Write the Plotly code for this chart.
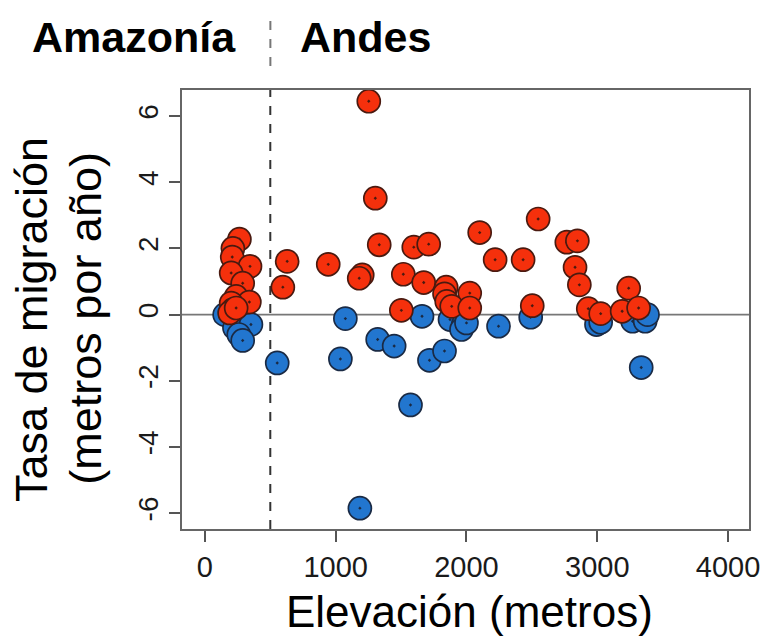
import plotly.graph_objects as go

# Elevation (m) and migration rate (m/yr) – upslope (red) and downslope (blue)
red_elev = [264, 214, 209, 345, 201, 289, 239, 340, 201, 214, 189, 239,
            629, 596, 943,
            1253, 1303, 1333, 1597, 1711, 2101, 2219, 2433, 2548,
            1203, 1180, 1517, 1673, 1845, 1832, 1849, 2025, 1887, 2025, 1502,
            2767, 2848, 2830, 2863, 2503, 2931, 3026, 3190, 3240, 3316]
red_rate = [2.28, 2.0, 1.74, 1.46, 1.26, 0.95, 0.55, 0.38, 0.35, 0.15, 0.05, 0.2,
            1.61, 0.83, 1.52,
            6.45, 3.52, 2.11, 2.04, 2.13, 2.48, 1.66, 1.66, 2.89,
            1.2, 1.1, 1.22, 0.97, 0.83, 0.63, 0.4, 0.65, 0.25, 0.2, 0.13,
            2.19, 2.23, 1.43, 0.9, 0.27, 0.18, 0.03, 0.1, 0.8, 0.2]

blue_elev = [151, 226, 352, 259, 289, 553,
             1074, 1321, 1447, 1036, 1660, 1874, 1975, 1962, 2000, 2245, 2491,
             1717, 1832, 1572, 1185,
             2994, 3026, 3270, 3366, 3384, 3336]
blue_rate = [0.0, -0.4, -0.3, -0.6, -0.78, -1.46,
             -0.12, -0.75, -0.95, -1.34, -0.05, -0.15, -0.3, -0.45, -0.25, -0.35, -0.08,
             -1.38, -1.1, -2.73, -5.85,
             -0.3, -0.23, -0.2, -0.2, 0.0, -1.6]

x_ticks = [0, 1000, 2000, 3000, 4000]
y_ticks = [-6, -4, -2, 0, 2, 4, 6]
boundary = 500

FONT = "Liberation Sans, Arial, sans-serif"

# plot-area geometry in pixels (for placing texts in paper coords)
L, R, T, B = 182, 753, 90, 529
W, H = R - L, B - T


def px(xp):
    return (xp - L) / W


def py(yp):
    return (B - yp) / H


fig = go.Figure()
fig.add_trace(go.Scatter(
    x=blue_elev, y=blue_rate, mode="markers",
    marker=dict(symbol="circle-dot", size=23, color="#2276cf",
                line=dict(color="#1a2a44", width=1.7)),
    showlegend=False, hoverinfo="x+y"))
fig.add_trace(go.Scatter(
    x=red_elev, y=red_rate, mode="markers",
    marker=dict(symbol="circle-dot", size=23, color="#f5300c",
                line=dict(color="#4a1a10", width=1.7)),
    showlegend=False, hoverinfo="x+y"))

# horizontal zero line and dashed boundary line
fig.add_shape(type="line", xref="paper", yref="y", x0=0, x1=1, y0=0, y1=0,
              line=dict(color="#777777", width=1.8), layer="below")
fig.add_shape(type="line", xref="x", yref="paper", x0=boundary, x1=boundary, y0=0, y1=1,
              line=dict(color="#333333", width=2, dash="dash"), layer="below")

# small dashed separator between region labels
fig.add_shape(type="line", xref="paper", yref="paper",
              x0=px(271), x1=px(271), y0=py(66), y1=py(18),
              line=dict(color="#777777", width=2, dash="dash"))

fig.add_annotation(text="<b>Amazonía</b>", xref="paper", yref="paper",
                   x=px(134), y=py(37),
                   showarrow=False, font=dict(family=FONT, size=43, color="black"),
                   xanchor="center", yanchor="middle")
fig.add_annotation(text="<b>Andes</b>", xref="paper", yref="paper",
                   x=px(367), y=py(37),
                   showarrow=False, font=dict(family=FONT, size=43, color="black"),
                   xanchor="center", yanchor="middle")

# y-axis title (two lines)
fig.add_annotation(text="Tasa de migración", xref="paper", yref="paper",
                   x=px(30), y=py(320), textangle=-90,
                   showarrow=False, font=dict(family=FONT, size=45, color="black"),
                   xanchor="center", yanchor="middle")
fig.add_annotation(text="(metros por año)", xref="paper", yref="paper",
                   x=px(84), y=py(318), textangle=-90,
                   showarrow=False, font=dict(family=FONT, size=45, color="black"),
                   xanchor="center", yanchor="middle")

fig.add_annotation(text="Elevación (metros)", xref="paper", yref="paper",
                   x=px(472), y=py(611),
                   showarrow=False, font=dict(family=FONT, size=44, color="black"),
                   xanchor="center", yanchor="middle")

fig.update_xaxes(range=[-175, 4160], tickvals=x_ticks, ticktext=[str(v) for v in x_ticks],
                 ticks="outside", ticklen=11, tickwidth=1.5, tickcolor="#555555",
                 showgrid=False, zeroline=False,
                 showline=True, linecolor="#666666", linewidth=1.5, mirror=True,
                 tickfont=dict(family=FONT, size=29, color="#1a1a1a"))
fig.update_yaxes(range=[-6.48, 6.79], tickvals=y_ticks, ticktext=[str(v) for v in y_ticks],
                 ticks="outside", ticklen=11, tickwidth=1.5, tickcolor="#555555",
                 tickangle=-90,
                 showgrid=False, zeroline=False,
                 showline=True, linecolor="#666666", linewidth=1.5, mirror=True,
                 tickfont=dict(family=FONT, size=28, color="#1a1a1a"))

fig.update_layout(width=772, height=637,
                  margin=dict(l=L, r=772 - R, t=T, b=637 - B),
                  plot_bgcolor="white", paper_bgcolor="white")

fig.write_html("out.html")
